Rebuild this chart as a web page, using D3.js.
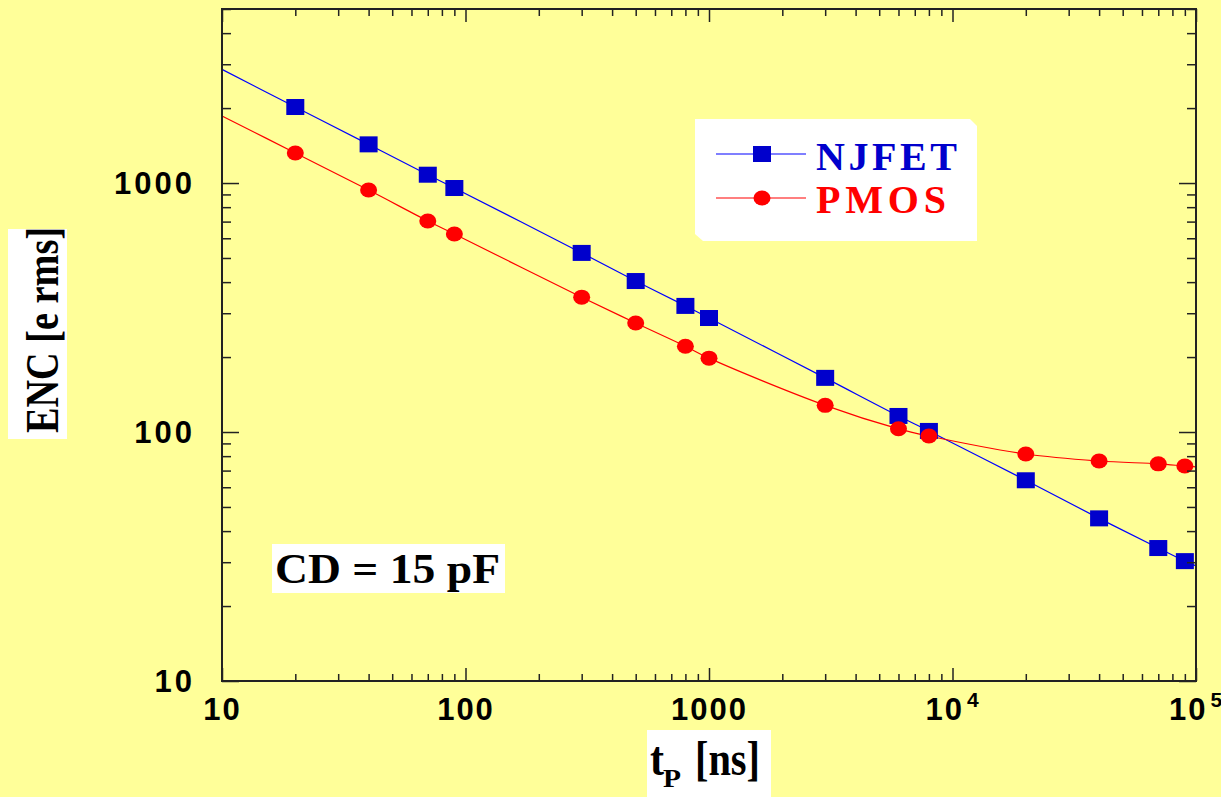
<!DOCTYPE html>
<html>
<head>
<meta charset="utf-8">
<script src="https://cdn.jsdelivr.net/npm/d3@7"></script>
<style>
  body { margin: 0; background: #FFFF99; }
  svg { display: block; }
  .tick text { font-family: "Liberation Sans", Arial, sans-serif; font-weight: bold; font-size: 31px; fill: #000; }
</style>
</head>
<body>
<div id="chart"></div>
<script>
// shaping time in ns
var tp = [20, 40, 70, 90, 300, 500, 800, 1000, 3000, 6000, 8000, 20000, 40000, 70000, 90000];
// ENC in e rms
var njfet = [2020, 1430, 1080, 955, 524, 404, 321, 287, 165, 116, 101, 64, 45, 34.2, 30.3];
var pmos = [1320, 937, 704, 624, 348, 274, 221, 198, 128, 103, 96.4, 81.6, 76.5, 74.5, 73];
// where the fitted curves meet the frame (t = 10 and t = 1e5)
var njfetEnds = [2860, 29];
var pmosEnds = [1860, 72.5];

var yMajor = [10, 100, 1000];
var xMajor = [10, 100, 1000, 10000, 100000];

var width = 1221, height = 797;
var plotLeft = 222, plotRight = 1196, plotTop = 9, plotBottom = 681;

var svg = d3.select("#chart").append("svg")
    .attr("width", width)
    .attr("height", height);

var x = d3.scaleLog().domain([10, 1e5]).range([plotLeft, plotRight]);
var y = d3.scaleLog().domain([10, 5000]).range([plotBottom, plotTop]);

// minor ticks 2..9 in every decade
function minors(lo, hi) {
  var out = [];
  for (var d = lo; d < hi; d *= 10) {
    for (var k = 2; k <= 9; k++) {
      if (d * k <= hi) out.push(d * k);
    }
  }
  return out;
}
var xMinor = minors(10, 1e5);
var yMinor = minors(10, 5000);

function clean(g) {
  g.select(".domain").remove();
  g.selectAll(".tick line").attr("stroke", "#222").attr("stroke-width", 1.5);
}

// curves first, markers on top
var line = d3.line()
    .x(function(d) { return x(d[0]); })
    .y(function(d) { return y(d[1]); })
    .curve(d3.curveCatmullRom);

function curvePts(vals, ends) {
  var pts = [[10, ends[0]]];
  tp.forEach(function(t, i) { pts.push([t, vals[i]]); });
  pts.push([1e5, ends[1]]);
  return pts;
}

svg.append("path")
    .attr("d", line(curvePts(njfet, njfetEnds)))
    .attr("fill", "none")
    .attr("stroke", "#0000FF")
    .attr("stroke-width", 1.2);

svg.append("path")
    .attr("d", line(curvePts(pmos, pmosEnds)))
    .attr("fill", "none")
    .attr("stroke", "#FF0000")
    .attr("stroke-width", 1.2);

svg.selectAll("rect.nj")
    .data(njfet)
    .enter().append("rect")
    .attr("class", "nj")
    .attr("x", function(d, i) { return x(tp[i]) - 9; })
    .attr("y", function(d) { return y(d) - 8; })
    .attr("width", 18)
    .attr("height", 16)
    .attr("fill", "#0000CC");

svg.selectAll("ellipse.pm")
    .data(pmos)
    .enter().append("ellipse")
    .attr("class", "pm")
    .attr("cx", function(d, i) { return x(tp[i]); })
    .attr("cy", function(d) { return y(d); })
    .attr("rx", 8.5)
    .attr("ry", 7.5)
    .attr("fill", "#FF0000");

// axes: ticks point inward
svg.append("g")
    .attr("transform", "translate(" + plotLeft + ",0)")
    .call(d3.axisLeft(y).tickValues(yMajor).tickSize(-17).tickPadding(27)
      .tickFormat(function(d) { return String(d); }))
    .call(clean)
    .selectAll("text").attr("letter-spacing", "3px").attr("dy", "0.35em");

svg.append("g")
    .attr("transform", "translate(" + plotLeft + ",0)")
    .call(d3.axisLeft(y).tickValues(yMinor).tickSize(-9).tickFormat(""))
    .call(clean);

svg.append("g")
    .attr("transform", "translate(" + plotRight + ",0)")
    .call(d3.axisRight(y).tickValues(yMajor).tickSize(-17).tickFormat(""))
    .call(clean);

svg.append("g")
    .attr("transform", "translate(" + plotRight + ",0)")
    .call(d3.axisRight(y).tickValues(yMinor).tickSize(-9).tickFormat(""))
    .call(clean);

var xb = svg.append("g")
    .attr("transform", "translate(0," + plotBottom + ")")
    .call(d3.axisBottom(x).tickValues(xMajor).tickSize(-13).tickPadding(17)
      .tickFormat(function(d) { return d < 1e4 ? String(d) : "10"; }))
    .call(clean);

xb.selectAll(".tick text")
    .attr("letter-spacing", "2px")
    .attr("dy", "0.71em")
    .each(function(d) {
      if (d >= 1e4) {
        d3.select(this).append("tspan")
            .attr("font-size", "21px")
            .attr("dx", "3")
            .attr("dy", "-13")
            .text(Math.round(Math.log10(d)));
      }
    });

svg.append("g")
    .attr("transform", "translate(0," + plotBottom + ")")
    .call(d3.axisBottom(x).tickValues(xMinor).tickSize(-7).tickFormat(""))
    .call(clean);

svg.append("g")
    .attr("transform", "translate(0," + plotTop + ")")
    .call(d3.axisTop(x).tickValues(xMajor).tickSize(-13).tickFormat(""))
    .call(clean);

svg.append("g")
    .attr("transform", "translate(0," + plotTop + ")")
    .call(d3.axisTop(x).tickValues(xMinor).tickSize(-7).tickFormat(""))
    .call(clean);

// frame
svg.append("rect")
    .attr("x", plotLeft)
    .attr("y", plotTop)
    .attr("width", plotRight - plotLeft)
    .attr("height", plotBottom - plotTop)
    .attr("fill", "none")
    .attr("stroke", "#222")
    .attr("stroke-width", 2);

// legend box with clipped corners
svg.append("path")
    .attr("d", "M695,119 L970,119 L977,126 L977,241 L703,241 L695,234 Z")
    .attr("fill", "#FFFFFF");

var legend = [
  {name: "NJFET", color: "#0000CC", line: "#0000FF", cy: 154, base: 170, len: 141},
  {name: "PMOS", color: "#FF0000", line: "#FF0000", cy: 198, base: 213, len: 130}
];

var lg = svg.selectAll("g.legend")
    .data(legend)
    .enter().append("g")
    .attr("class", "legend");

lg.append("line")
    .attr("x1", 716).attr("x2", 806)
    .attr("y1", function(d) { return d.cy; })
    .attr("y2", function(d) { return d.cy; })
    .attr("stroke", function(d) { return d.line; })
    .attr("stroke-width", 1.2);

lg.filter(function(d, i) { return i == 0; })
  .append("rect")
    .attr("x", 762 - 9).attr("y", function(d) { return d.cy - 8; })
    .attr("width", 18).attr("height", 16)
    .attr("fill", "#0000CC");

lg.filter(function(d, i) { return i == 1; })
  .append("ellipse")
    .attr("cx", 762).attr("cy", function(d) { return d.cy; })
    .attr("rx", 8.5).attr("ry", 7.5)
    .attr("fill", "#FF0000");

lg.append("text")
    .attr("x", 816)
    .attr("y", function(d) { return d.base; })
    .attr("textLength", function(d) { return d.len; })
    .attr("lengthAdjust", "spacing")
    .style("font-family", "'Liberation Serif', 'Times New Roman', serif")
    .style("font-weight", "bold")
    .style("font-size", "40px")
    .style("fill", function(d) { return d.color; })
    .text(function(d) { return d.name; });

// CD = 15 pF note
svg.append("rect")
    .attr("x", 272).attr("y", 544)
    .attr("width", 233).attr("height", 49)
    .attr("fill", "#FFFFFF");

svg.append("text")
    .attr("x", 275)
    .attr("y", 583)
    .attr("textLength", 225)
    .attr("lengthAdjust", "spacingAndGlyphs")
    .style("font-family", "'Liberation Serif', 'Times New Roman', serif")
    .style("font-weight", "bold")
    .style("font-size", "42px")
    .text("CD = 15 pF");

// y axis title
svg.append("rect")
    .attr("x", 8).attr("y", 229)
    .attr("width", 59).attr("height", 210)
    .attr("fill", "#FFFFFF");

svg.append("text")
    .attr("transform", "translate(58,330) rotate(-90)")
    .attr("text-anchor", "middle")
    .attr("textLength", 206)
    .attr("lengthAdjust", "spacingAndGlyphs")
    .style("font-family", "'Liberation Serif', 'Times New Roman', serif")
    .style("font-weight", "bold")
    .style("font-size", "47px")
    .text("ENC [e rms]");

// x axis title
svg.append("rect")
    .attr("x", 647).attr("y", 730)
    .attr("width", 124).attr("height", 67)
    .attr("fill", "#FFFFFF");

var xt = svg.append("g")
    .style("font-family", "'Liberation Serif', 'Times New Roman', serif")
    .style("font-weight", "bold");

xt.append("text")
    .attr("x", 650).attr("y", 775)
    .style("font-size", "48px")
    .attr("textLength", 14)
    .attr("lengthAdjust", "spacingAndGlyphs")
    .text("t");

xt.append("text")
    .attr("x", 663).attr("y", 787)
    .style("font-size", "26px")
    .attr("textLength", 18)
    .attr("lengthAdjust", "spacingAndGlyphs")
    .text("P");

xt.append("text")
    .attr("x", 695).attr("y", 775)
    .style("font-size", "48px")
    .attr("textLength", 65)
    .attr("lengthAdjust", "spacingAndGlyphs")
    .text("[ns]");
</script>
</body>
</html>
